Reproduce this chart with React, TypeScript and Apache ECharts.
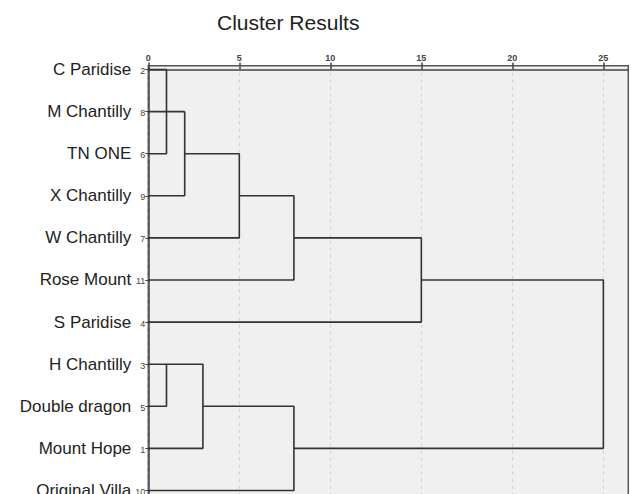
import React, { useEffect, useRef } from "react";
import * as echarts from "echarts";

const leafNames = [
  "C Paridise",
  "M Chantilly",
  "TN ONE",
  "X Chantilly",
  "W Chantilly",
  "Rose Mount",
  "S Paridise",
  "H Chantilly",
  "Double dragon",
  "Mount Hope",
  "Original Villa",
];
const caseNumbers = [2, 8, 6, 9, 7, 11, 4, 3, 5, 1, 10];
// merges: [childA, childB, rescaled distance]; leaves are 0..10, clusters 11+
const mergeA = [0, 11, 12, 13, 14, 15, 7, 17, 18, 16];
const mergeB = [2, 1, 3, 4, 5, 6, 8, 9, 10, 19];
const mergeHeight = [1, 2, 2, 5, 8, 15, 1, 3, 8, 25];
const xTicks = [0, 5, 10, 15, 20, 25];

export default function App() {
  const ref = useRef<HTMLDivElement>(null);
  useEffect(() => {
    if (!ref.current) return;
    const chart = echarts.init(ref.current, undefined, { renderer: "svg" });
    const pos: { x: number; y: number }[] = leafNames.map((_, i) => ({ x: 0, y: i }));
    const series: any[] = [];
    for (let k = 0; k < mergeA.length; k++) {
      const a = pos[mergeA[k]];
      const b = pos[mergeB[k]];
      const h = mergeHeight[k];
      series.push({
        type: "line",
        symbol: "none",
        silent: true,
        z: 5,
        lineStyle: { color: "#333", width: 1.6 },
        data: [
          [a.x, a.y],
          [h, a.y],
          [h, b.y],
          [b.x, b.y],
        ],
      });
      pos.push({ x: h, y: Math.floor((a.y + b.y) / 2) });
    }
    const rowIdx = leafNames.map((_, i) => i);
    chart.setOption({
      animation: false,
      title: {
        text: "Cluster Results",
        left: 212,
        top: 7,
        textStyle: {
          fontFamily: "Liberation Sans, Arial, sans-serif",
          fontSize: 21,
          fontWeight: "normal",
          color: "#222",
        },
      },
      grid: {
        left: 148.3,
        width: 480,
        top: 65.7,
        height: 437.4,
        outerBoundsMode: "none",
        containLabel: false,
        show: true,
        backgroundColor: "#f0f0f0",
        borderColor: "#555",
        borderWidth: 1.5,
      },
      xAxis: {
        type: "value",
        position: "top",
        min: 0,
        max: 26.37,
        interval: 5,
        axisLine: { show: true, lineStyle: { color: "#444", width: 1.5 } },
        axisTick: {
          show: true,
          length: 7,
          customValues: xTicks,
          lineStyle: { color: "#444", width: 1.5 },
        },
        axisLabel: {
          customValues: xTicks,
          fontSize: 9,
          color: "#444",
          margin: 3,
          fontFamily: "Liberation Sans, Arial, sans-serif",
          fontWeight: "bold",
        },
        splitLine: {
          show: true,
          lineStyle: { color: "#cfcfcf", type: [3, 4], width: 1 },
        },
      },
      yAxis: {
        type: "value",
        inverse: true,
        min: -0.09,
        max: 10.3,
        axisLine: { show: true, lineStyle: { color: "#444", width: 1.5 } },
        axisTick: {
          show: true,
          length: 3,
          customValues: rowIdx,
          lineStyle: { color: "#444", width: 1 },
        },
        splitLine: { show: false },
        axisLabel: {
          customValues: rowIdx,
          margin: 3,
          color: "#333",
          formatter: (v: number) => {
            const i = Math.round(v);
            return `{n|${leafNames[i]}}{c|${caseNumbers[i]}}`;
          },
          rich: {
            n: {
              fontFamily: "Liberation Sans, Arial, sans-serif",
              fontSize: 17,
              color: "#222",
            },
            c: {
              fontFamily: "Liberation Sans, Arial, sans-serif",
              fontSize: 9,
              color: "#444",
              width: 14,
              align: "right",
              padding: [3, 0, 0, 0],
            },
          },
        },
      },
      series,
    });
    return () => chart.dispose();
  }, []);
  return (
    <div
      ref={ref}
      style={{ position: "fixed", left: 0, top: 0, width: 631, height: 494, background: "#fff" }}
    />
  );
}
